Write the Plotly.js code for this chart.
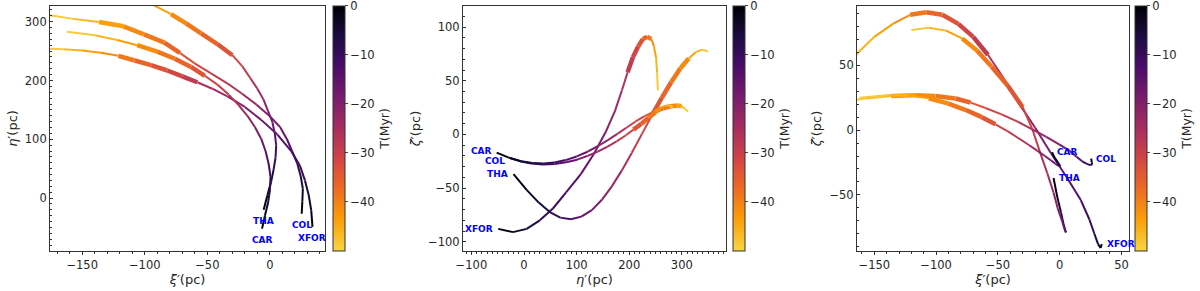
<!DOCTYPE html>
<html>
<head>
<meta charset="utf-8">
<script src="https://cdn.plot.ly/plotly-3.0.1.min.js"></script>
<style>html,body{margin:0;padding:0;background:#fff;}#plot{width:1200px;height:291px;}</style>
</head>
<body>
<div id="plot"></div>
<script>
// ---- data: time samples (Myr) and orbit coordinates (pc) ----
const T = [0,-2.5,-5,-7.5,-10,-12.5,-15,-17.5,-20,-22.5,-25,-27.5,-30,-32.5,-35,-37.5,-40,-42.5,-45,-47.5,-50];
const groups = ['XFOR','THA','COL','CAR'];

const THA_xi   = [-5,-2,1,3,4.5,5,4,2,-1.5,-5,-10,-16,-22,-30,-42,-55,-67,-79,-92,-106,-120];
const THA_eta  = [-20,5,28,49,69,89,109,129,148,167,186,205,224,243,262,280,297,313,327,339,350];
const THA_zeta = [-37,-51.7,-63.5,-72.3,-77.5,-79,-76.6,-70.5,-60.9,-48.4,-33.5,-17,0.3,17.7,34.2,48.9,61.4,70.8,76.8,79,77.3];

const CAR_xi   = [-6.3,-4,-1.5,0,0.5,-1,-3.5,-7,-12,-18,-25,-33,-42,-52,-63,-76,-90,-106,-122,-140,-162];
const CAR_eta  = [-52,-30,-8,14,36,58,80,101,121,140,158,176,193,208,223,237,249,260,269,277,283];
const CAR_zeta = [-17,-21.4,-24.9,-27.1,-28,-27.5,-26,-23.5,-20,-16,-11.5,-6.5,-1,4.5,10,15.5,20.5,24.5,26.8,27,25];

const COL_xi   = [25.4,25.9,26.3,24.6,21.9,17.8,13.6,8.1,-0.5,-10.9,-22.2,-34.1,-47.1,-60.1,-72,-84.3,-100.6,-117,-136.4,-157.3,-178];
const COL_eta  = [-26.6,-5.4,15.8,37.2,58.4,79.2,100.2,120.8,140.2,159.3,177.5,195.2,212.2,229.2,247,264.4,278.4,292.1,299.6,304.8,311.7];
const COL_zeta = [-22,-24.9,-26.6,-27,-26.1,-23.9,-20.5,-16.1,-11,-5.3,0.6,6.5,12.1,17.1,21.2,24.4,26.3,27,26.3,24.4,21.3];

const XFOR_xi   = [34,33,31,28,24,17,6,-7,-20,-34,-46,-58,-70,-82,-95,-108,-121,-135,-150,-165,-180];
const XFOR_eta  = [-49,-21,5,30,55,80,108,133,155,173,186,197,207,217,226,234,242,247,251,253,254.5];
const XFOR_zeta = [-88,-91,-88,-80,-69,-54,-37,-18,2,22,41,58,72,82,89,91,89,82,72,58,41];

const cbTicks = [0,-10,-20,-30,-40];

// ---- styling ----
const orbits = {
  THA:  {xi:THA_xi,  eta:THA_eta,  zeta:THA_zeta,  thick:[-42.5,-32.5]},
  CAR:  {xi:CAR_xi,  eta:CAR_eta,  zeta:CAR_zeta,  thick:[-42.5,-32.5]},
  COL:  {xi:COL_xi,  eta:COL_eta,  zeta:COL_zeta,  thick:[-45,-35]},
  XFOR: {xi:XFOR_xi, eta:XFOR_eta, zeta:XFOR_zeta, thick:[-40,-27.5]}
};
const cscale = [[0,'#f7d444'],[0.0123,'#f7d13d'],[0.1358,'#fb9b06'],[0.2593,'#ed6925'],[0.3827,'#cf4446'],
  [0.5062,'#a52c60'],[0.6296,'#781c6d'],[0.7531,'#4a0c6b'],[0.8765,'#1b0c41'],[1,'#000004']];
const CMIN=-50, CMAX=0;
function hex2rgb(h){return [parseInt(h.substr(1,2),16),parseInt(h.substr(3,2),16),parseInt(h.substr(5,2),16)];}
function colorAt(v){
  let s=(v-CMIN)/(CMAX-CMIN); s=Math.max(0,Math.min(1,s));
  for(let i=0;i<cscale.length-1;i++){
    const a=cscale[i], b=cscale[i+1];
    if(s>=a[0] && s<=b[0]){
      const f=(s-a[0])/(b[0]-a[0]); const ca=hex2rgb(a[1]), cb=hex2rgb(b[1]);
      return 'rgb('+ca.map((c,k)=>Math.round(c+(cb[k]-c)*f)).join(',')+')';
    }
  }
  return cscale[cscale.length-1][1];
}
const FONT='DejaVu Sans';
const TXT='#262626';
const yDom=[0.1375,0.9794];
const panels = [
  {xa:'x', ya:'y', xk:'xi', yk:'eta', dom:[0.04167,0.27083], cbx:0.2775,
   xr:[-175.7,44], yr:[-90,326.7], xd:50, yd:100, xt:'<i>ξ</i>′(pc)', yt:'<i>η</i>′(pc)', lab:'below'},
  {xa:'x2', ya:'y2', xk:'eta', yk:'zeta', dom:[0.38583,0.605], cbx:0.6108,
   xr:[-116,384], yr:[-108.6,119.7], xd:100, yd:50, xt:'<i>η</i>′(pc)', yt:'<i>ζ</i>′(pc)', lab:'left'},
  {xa:'x3', ya:'y3', xk:'xi', yk:'zeta', dom:[0.71417,0.94083], cbx:0.9458,
   xr:[-164,56], yr:[-93.3,95.8], xd:50, yd:50, xt:'<i>ξ</i>′(pc)', yt:'<i>ζ</i>′(pc)', lab:'right'}
];
// small vertical nudges for the two crowded labels in the middle panel
const labelNudge = {CAR:2, COL:-3};

const traces=[]; const annotations=[];
const layout = {width:1200,height:291,margin:{l:0,r:0,t:0,b:0},paper_bgcolor:'#fff',plot_bgcolor:'#fff',
  showlegend:false,font:{family:FONT,size:11.5,color:TXT},annotations:annotations};

panels.forEach((p,pi)=>{
  groups.forEach(g=>{
    const o=orbits[g]; const X=o[p.xk], Y=o[p.yk];
    for(let i=0;i<T.length-1;i++){
      const tm=(T[i]+T[i+1])/2;
      const thick = T[i]<=o.thick[1] && T[i]>=o.thick[0] && T[i+1]<=o.thick[1] && T[i+1]>=o.thick[0];
      traces.push({type:'scatter',mode:'lines',x:[X[i],X[i+1]],y:[Y[i],Y[i+1]],xaxis:p.xa,yaxis:p.ya,
        line:{color:colorAt(tm),width:thick?4.5:2},hoverinfo:'skip',showlegend:false});
    }
    const ann={x:X[0],y:Y[0],xref:p.xa,yref:p.ya,text:'<b>'+g+'</b>',showarrow:false,
      font:{family:FONT,size:9,color:'#0000ff'}};
    if(p.lab==='below'){ann.xanchor='center';ann.yanchor='top';ann.yshift=-4;}
    else if(p.lab==='left'){ann.xanchor='right';ann.yanchor='middle';ann.xshift=-3;
      if(labelNudge[g]) ann.yshift=labelNudge[g];}
    else {ann.xanchor='left';ann.yanchor='middle';ann.xshift=3;}
    annotations.push(ann);
  });
  traces.push({type:'scatter',mode:'markers',x:[1e9],y:[1e9],xaxis:p.xa,yaxis:p.ya,hoverinfo:'skip',showlegend:false,
    marker:{color:[CMIN],cmin:CMIN,cmax:CMAX,colorscale:cscale,showscale:true,size:1,
      colorbar:{x:p.cbx,xanchor:'left',xpad:0,ypad:0,y:(yDom[0]+yDom[1])/2,yanchor:'middle',len:yDom[1]-yDom[0],lenmode:'fraction',
        thickness:12,outlinewidth:1,outlinecolor:'#333',tickmode:'array',tickvals:cbTicks,
        ticks:'outside',ticklen:3,ticklabeloverflow:'allow',
        tickfont:{family:FONT,size:11.5,color:TXT},
        title:{text:'T(Myr)',side:'right',font:{family:FONT,size:12.5,color:TXT}}}}});
  const sfx = pi===0?'':String(pi+1);
  layout['xaxis'+sfx]={domain:p.dom,range:p.xr,anchor:p.ya,dtick:p.xd,tick0:0,ticks:'outside',ticklen:3,tickcolor:'#333',
    minor:{dtick:10,ticks:'outside',ticklen:2,tickcolor:'#333'},showline:true,mirror:true,linecolor:'#333',linewidth:1,
    showgrid:false,zeroline:false,tickfont:{family:FONT,size:11.5,color:TXT},
    title:{text:p.xt,standoff:4,font:{family:FONT,size:13,color:TXT}}};
  layout['yaxis'+sfx]={domain:yDom,range:p.yr,anchor:p.xa,dtick:p.yd,tick0:0,ticks:'inside',ticklen:3,tickcolor:'#333',
    minor:{dtick:10,ticks:'inside',ticklen:2,tickcolor:'#333'},showline:true,mirror:true,linecolor:'#333',linewidth:1,
    showgrid:false,zeroline:false,tickfont:{family:FONT,size:11.5,color:TXT},
    title:{text:p.yt,standoff:4,font:{family:FONT,size:13,color:TXT}}};
});

Plotly.newPlot('plot',traces,layout,{staticPlot:true,displayModeBar:false});
</script>
</body>
</html>
